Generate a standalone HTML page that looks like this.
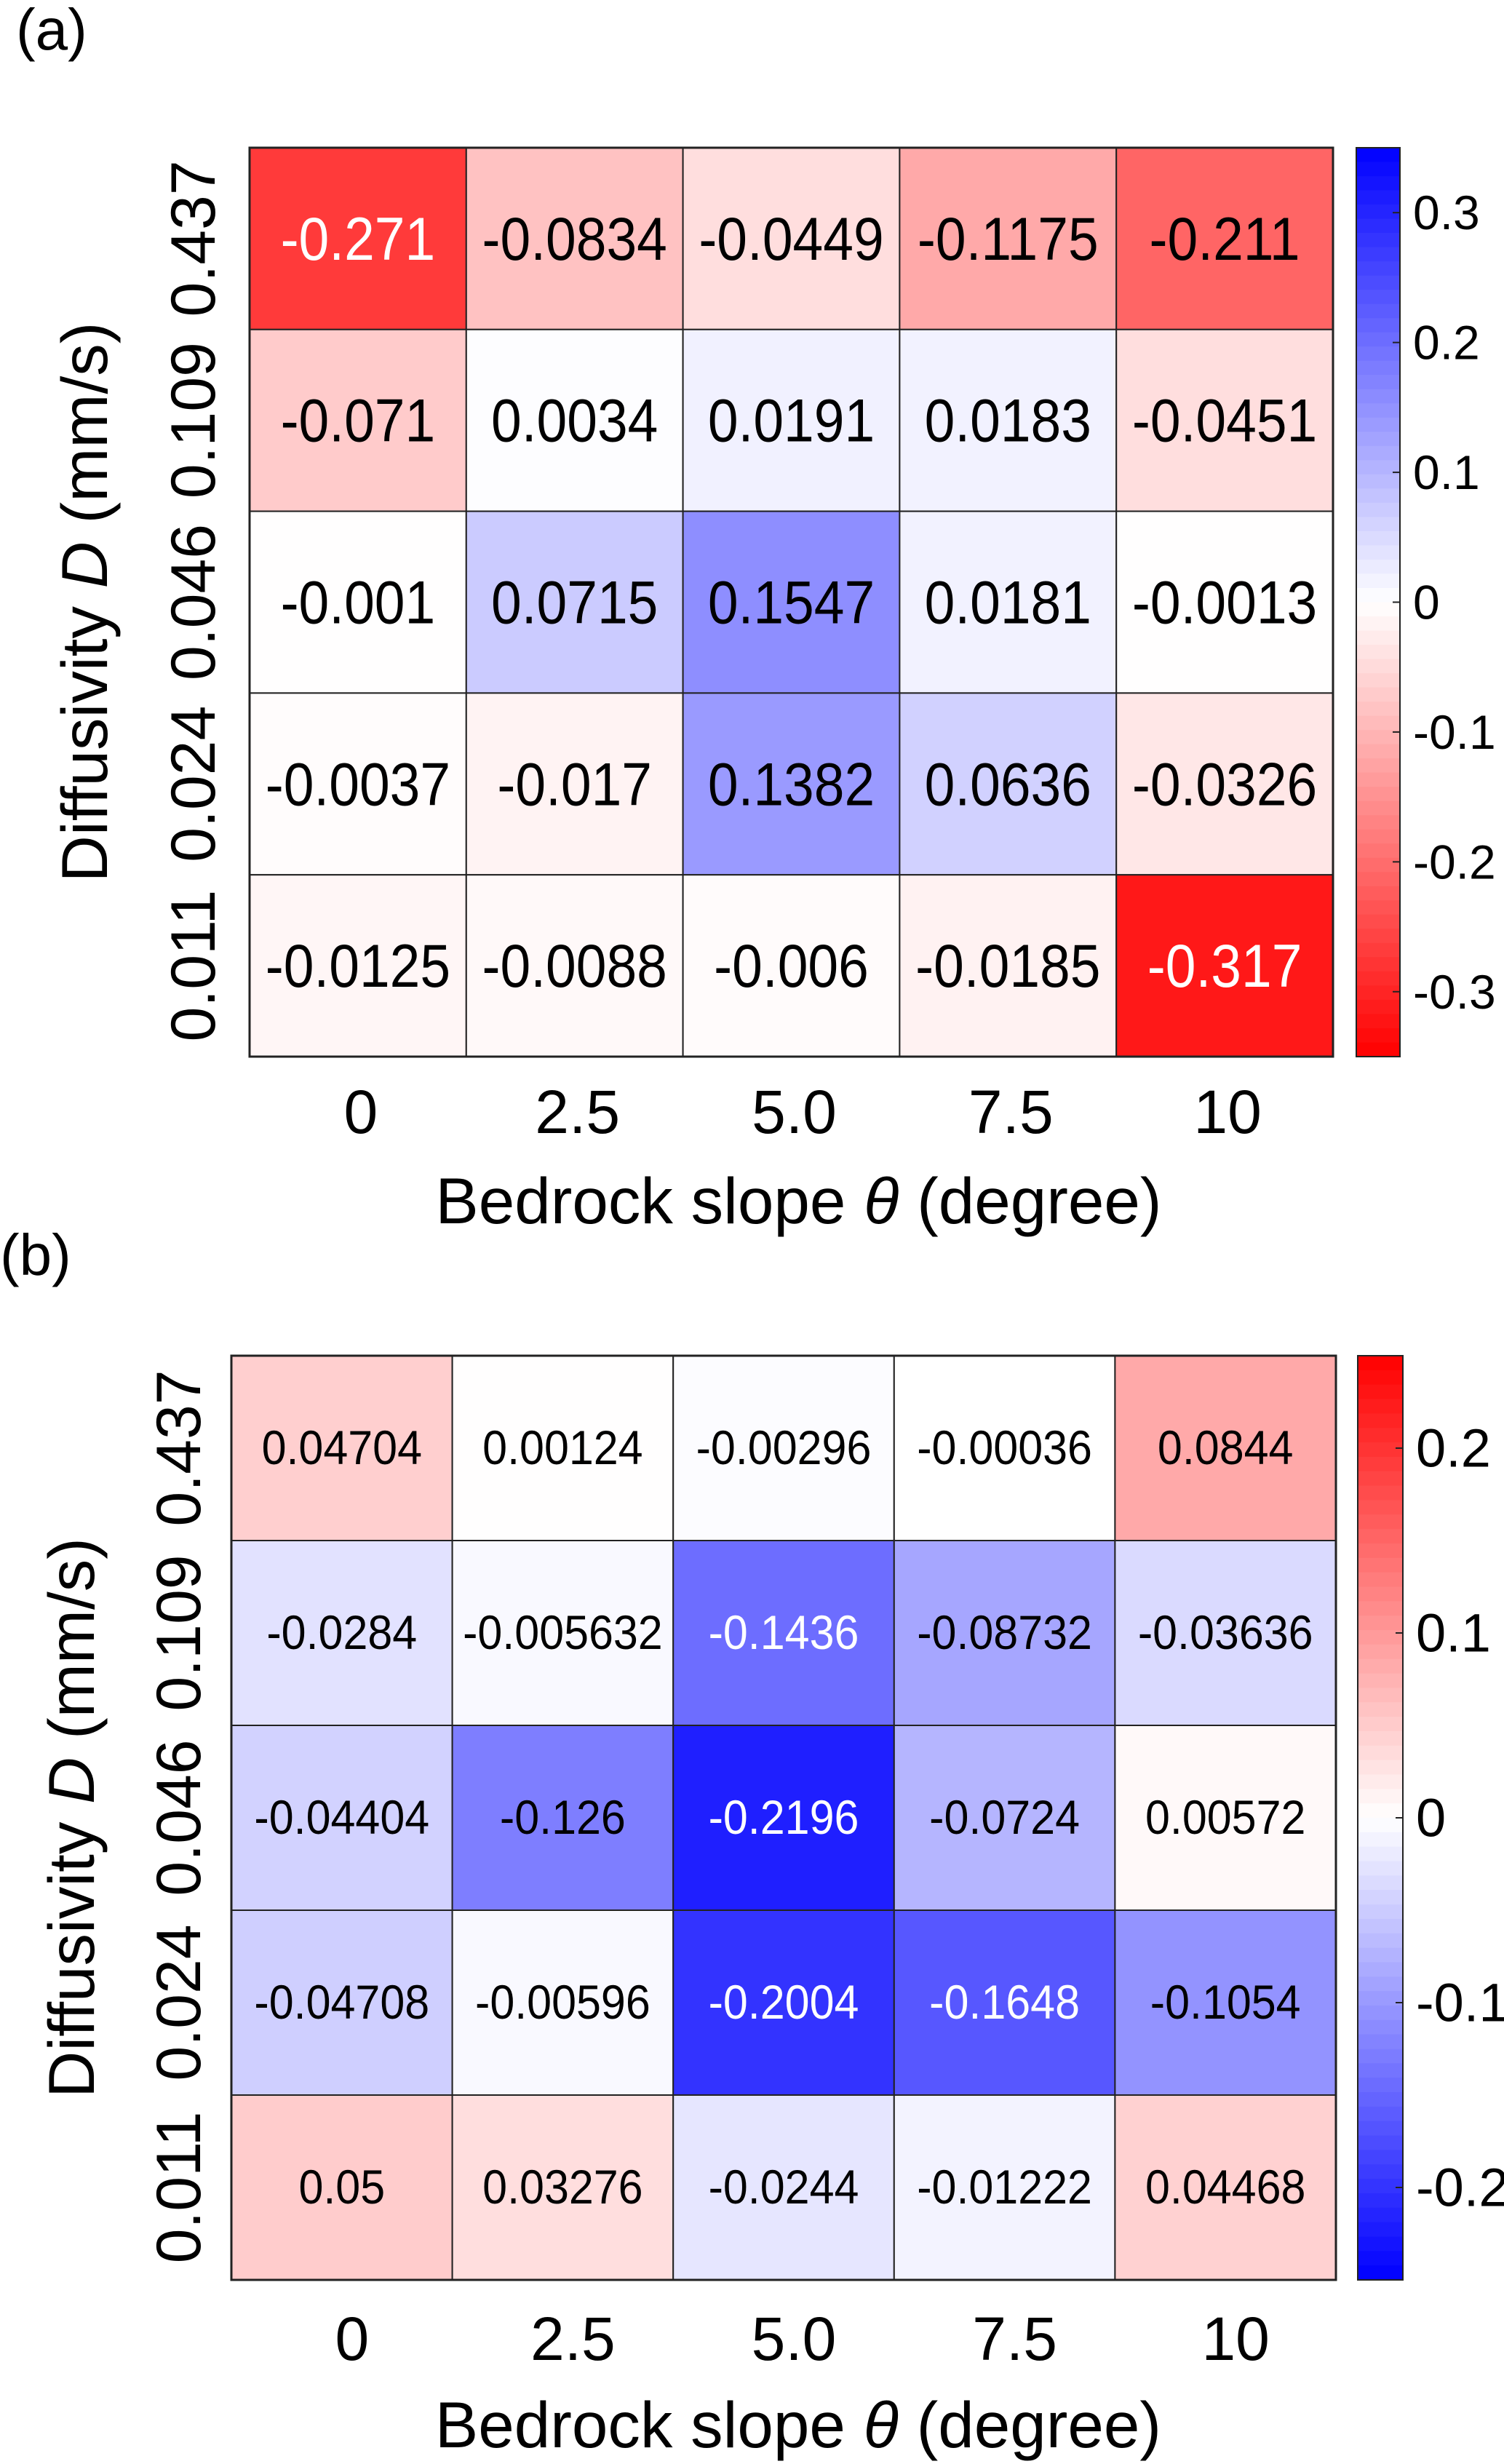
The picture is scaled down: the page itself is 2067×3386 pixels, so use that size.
<!DOCTYPE html>
<html><head><meta charset="utf-8">
<style>
html,body{margin:0;padding:0;background:#fff;}
svg{display:block;font-family:"Liberation Sans",sans-serif;}
</style></head>
<body>
<svg id="fig" width="2067" height="3386" viewBox="0 0 2067 3386" xmlns="http://www.w3.org/2000/svg">
<text x="22" y="68" font-size="80">(a)</text>
<text x="0" y="1752" font-size="80">(b)</text>
</svg>
<script>
const xCats = ["0","2.5","5.0","7.5","10"];
const yCats = ["0.437","0.109","0.046","0.024","0.011"];
const valuesA = [
 [-0.271,-0.0834,-0.0449,-0.1175,-0.211],
 [-0.071,0.0034,0.0191,0.0183,-0.0451],
 [-0.001,0.0715,0.1547,0.0181,-0.0013],
 [-0.0037,-0.017,0.1382,0.0636,-0.0326],
 [-0.0125,-0.0088,-0.006,-0.0185,-0.317]
];
const labelsA = [
 ["-0.271","-0.0834","-0.0449","-0.1175","-0.211"],
 ["-0.071","0.0034","0.0191","0.0183","-0.0451"],
 ["-0.001","0.0715","0.1547","0.0181","-0.0013"],
 ["-0.0037","-0.017","0.1382","0.0636","-0.0326"],
 ["-0.0125","-0.0088","-0.006","-0.0185","-0.317"]
];
const valuesB = [
 [0.04704,0.00124,-0.00296,-0.00036,0.0844],
 [-0.0284,-0.005632,-0.1436,-0.08732,-0.03636],
 [-0.04404,-0.126,-0.2196,-0.0724,0.00572],
 [-0.04708,-0.00596,-0.2004,-0.1648,-0.1054],
 [0.05,0.03276,-0.0244,-0.01222,0.04468]
];
const labelsB = [
 ["0.04704","0.00124","-0.00296","-0.00036","0.0844"],
 ["-0.0284","-0.005632","-0.1436","-0.08732","-0.03636"],
 ["-0.04404","-0.126","-0.2196","-0.0724","0.00572"],
 ["-0.04708","-0.00596","-0.2004","-0.1648","-0.1054"],
 ["0.05","0.03276","-0.0244","-0.01222","0.04468"]
];
const cbTicksA = [0.3,0.2,0.1,0,-0.1,-0.2,-0.3];
const cbTickLabelsA = ["0.3","0.2","0.1","0","-0.1","-0.2","-0.3"];
const cbTicksB = [0.2,0.1,0,-0.1,-0.2];
const cbTickLabelsB = ["0.2","0.1","0","-0.1","-0.2"];

const NS="http://www.w3.org/2000/svg";
const svg=document.getElementById('fig');
function mk(tag,attrs,parent){const e=document.createElementNS(NS,tag);for(const k in attrs)e.setAttribute(k,attrs[k]);(parent||svg).appendChild(e);return e;}

function colorFor(v,max,posBlue){
  let t=Math.max(-1,Math.min(1,v/max));
  const a=Math.round(255*(1-Math.abs(t)));
  const blue=(t>0)===posBlue;
  return blue?`rgb(${a},${a},255)`:`rgb(255,${a},${a})`;
}

function panel(p){
  const g=mk('g',{});
  
  
  const cw=(p.x1-p.x0)/xCats.length, ch=(p.y1-p.y0)/yCats.length;
  const xPos=i=>p.x0+cw*i, yPos=j=>p.y0+ch*j;
  p.values.forEach((row,j)=>row.forEach((v,i)=>{
    const r=mk('rect',{x:xPos(i),y:yPos(j),width:cw,height:ch,fill:colorFor(v,p.max,p.posBlue),stroke:'#222','stroke-width':2},g);
    
    
    const cx=xPos(i)+cw/2, cy=yPos(j)+ch/2;
    const t=mk('text',{x:cx,y:cy,'font-size':p.cellFont,'text-anchor':'middle','dominant-baseline':'central',fill:Math.abs(v)>p.whiteThr?'#fff':'#000',
      transform:`translate(${cx} ${cy}) scale(1 ${p.cellStretch}) translate(${-cx} ${-cy})`},g);
    t.textContent=p.labels[j][i];
    
    
  }));
  mk('rect',{x:p.x0,y:p.y0,width:p.x1-p.x0,height:p.y1-p.y0,fill:'none',stroke:'#222','stroke-width':3},g);
  xCats.forEach((c,i)=>{
    const t=mk('text',{x:xPos(i)+cw/2+p.xTickShift,y:p.xTickY,'font-size':84,'text-anchor':'middle','dominant-baseline':'central'},g);
    t.textContent=c;
    
    
  });
  yCats.forEach((c,j)=>{
    const cy=yPos(j)+ch/2;
    const t=mk('text',{x:p.yTickX,y:cy,'font-size':86,'text-anchor':'middle','dominant-baseline':'central',transform:`rotate(-90 ${p.yTickX} ${cy})`},g);
    t.textContent=c;
    
    
  });
  const xt=mk('text',{x:(p.x0+p.x1)/2+p.xTitleShift,y:p.xTitleY,'font-size':89,'text-anchor':'middle','dominant-baseline':'central'},g);
  xt.innerHTML='Bedrock slope <tspan font-style="italic">θ</tspan> (degree)';
  
  
  const cy=(p.y0+p.y1)/2;
  const yt=mk('text',{x:p.yTitleX,y:cy,'font-size':89,'text-anchor':'middle','dominant-baseline':'central',transform:`rotate(-90 ${p.yTitleX} ${cy})`},g);
  yt.innerHTML='Diffusivity <tspan font-style="italic">D</tspan> (mm/s)';
  
  
  const cb=mk('g',{},g);
  
  
  const N=64, h=(p.y1-p.y0)/N;
  for(let k=0;k<N;k++){
    const v=p.max-(k+0.5)*(2*p.max/N);
    mk('rect',{x:p.cbX,y:p.y0+k*h,width:p.cbW,height:h+0.6,fill:colorFor(v,p.max,p.posBlue)},cb);
  }
  mk('rect',{x:p.cbX,y:p.y0,width:p.cbW,height:p.y1-p.y0,fill:'none',stroke:'#222','stroke-width':2},cb);
  const cbY=v=>p.y0+(p.max-v)/(2*p.max)*(p.y1-p.y0);
  p.cbTicks.forEach((v,k)=>{
    const y=cbY(v);
    mk('line',{x1:p.cbX+p.cbW-10,x2:p.cbX+p.cbW,y1:y,y2:y,stroke:'#222','stroke-width':2},cb);
    const t=mk('text',{x:p.cbX+p.cbW+18,y:y,'font-size':p.cbFont,'dominant-baseline':'central'},cb);
    t.textContent=p.cbLabels[k];
    
    
  });
}
panel({name:'heatmap-a',values:valuesA,labels:labelsA,x0:343,x1:1832,y0:203,y1:1452,max:0.35,posBlue:true,whiteThr:0.25,cellFont:75,cellStretch:1.12,
  xTickY:1528,xTickShift:4,yTickX:266,xTitleY:1650,xTitleShift:10,yTitleX:116,cbX:1864,cbW:60,cbTicks:cbTicksA,cbLabels:cbTickLabelsA,cbFont:66});
panel({name:'heatmap-b',values:valuesB,labels:labelsB,x0:318,x1:1836,y0:1863,y1:3133,max:0.25,posBlue:false,whiteThr:0.14,cellFont:61,cellStretch:1.08,
  xTickY:3214,xTickShift:14,yTickX:246,xTitleY:3332,xTitleShift:20,yTitleX:98,cbX:1866,cbW:62,cbTicks:cbTicksB,cbLabels:cbTickLabelsB,cbFont:74});
</script>
</body></html>
